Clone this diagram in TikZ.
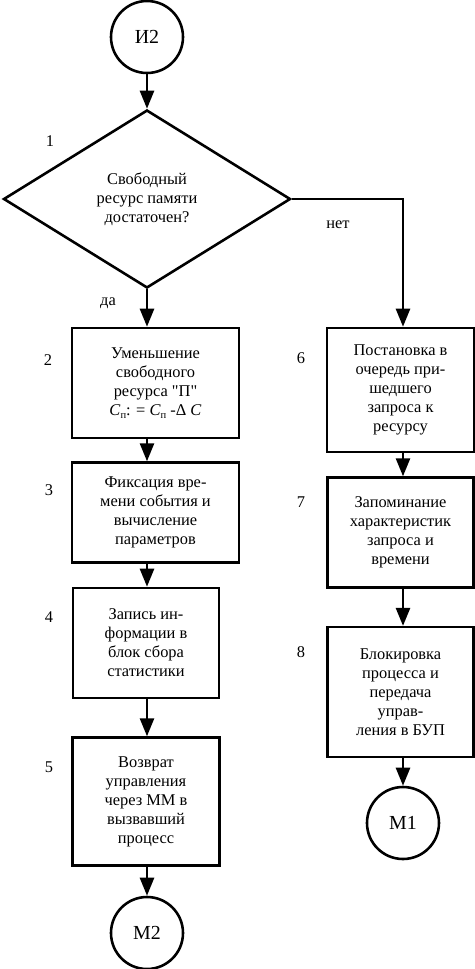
\documentclass[tikz,border=0pt]{standalone}
\usepackage{fontspec}
\setmainfont{Liberation Serif}
\usetikzlibrary{positioning,arrows.meta,shapes.geometric,calc}

\newcommand{\Cp}{\textit{C}\raisebox{-0.35ex}{\fontsize{9}{9}\selectfont п}}

\begin{document}
\begin{tikzpicture}[
    x=0.03cm, y=-0.03cm,
    every node/.style={font=\fontsize{14}{16.2}\selectfont},
    box/.style={draw, line width=2.2pt, rectangle, align=center, inner sep=2pt},
    term/.style={draw, line width=2.2pt, circle, minimum size=2.16cm, inner sep=0pt, font=\fontsize{17}{19}\selectfont},
    decision/.style={draw, line width=2.2pt, diamond, minimum width=8.61cm, minimum height=5.34cm, inner sep=0pt, align=center},
    arr/.style={-{Triangle[length=0.54cm, width=0.42cm]}, line width=2.2pt},
    num/.style={inner sep=0pt},
]
\useasboundingbox (0,0) rectangle (475,969);

% Left branch
\node[term] (i2) at (147,37) {И2};
\node[decision] (cond) at (147,199) {Свободный\\ресурс памяти\\достаточен?};
\node[box, minimum width=5.01cm, minimum height=3.3cm] (dec) at (155.5,383)
    {Уменьшение\\свободного\\ресурса \textquotedbl П\textquotedbl\\\Cp: = \Cp\ -Δ \textit{C}};
\node[box, minimum width=5.01cm, minimum height=3.0cm, below=0.66cm of dec] (fix)
    {Фиксация вре-\\мени события и\\вычисление\\параметров};
\node[box, minimum width=4.38cm, minimum height=3.3cm] (stat) at (146,643)
    {Запись ин-\\формации в\\блок сбора\\статистики};
\node[box, minimum width=4.41cm, minimum height=3.84cm, below=1.11cm of stat] (ret)
    {Возврат\\управления\\через ММ в\\вызвавший\\процесс};
\node[term] (m2) at (147,933) {М2};

% Right branch
\node[box, minimum width=4.41cm, minimum height=3.72cm] (queue) at (400.5,390)
    {Постановка в\\очередь при-\\шедшего\\запроса к\\ресурсу};
\node[box, minimum width=4.38cm, minimum height=3.3cm, below=0.69cm of queue] (mem)
    {Запоминание\\характеристик\\запроса и\\времени};
\node[box, minimum width=4.38cm, minimum height=3.9cm, below=1.11cm of mem] (block)
    {Блокировка\\процесса и\\передача\\управ-\\ления в БУП};
\node[term] (m1) at (403,823) {М1};

% Numbers and branch labels
\node[num] (n1) at (50,141) {1};
\node[num] (n2) at (48,360) {2};
\node[num] (n3) at (49,490) {3};
\node[num] (n4) at (49,617) {4};
\node[num] (n5) at (49,767) {5};
\node[num] (n6) at (301,358) {6};
\node[num] (n7) at (301,502) {7};
\node[num] (n8) at (301,652) {8};
\node[num] (yes) at (108,303) {да};
\node[num] (no) at (338,225) {нет};

% Arrows
\draw[arr] (i2) -- (cond);
\draw[arr] (cond.south) -- (cond.south |- dec.north);
\draw[arr] (dec.south -| i2) -- (fix.north -| i2);
\draw[arr] (fix.south -| i2) -- (stat.north -| i2);
\draw[arr] (stat.south -| i2) -- (ret.north -| i2);
\draw[arr] (ret.south -| i2) -- (m2);
\draw[arr] (cond.east) -| (queue.north -| m1);
\draw[arr] (queue.south -| m1) -- (mem.north -| m1);
\draw[arr] (mem.south -| m1) -- (block.north -| m1);
\draw[arr] (block.south -| m1) -- (m1);

\end{tikzpicture}
\end{document}
